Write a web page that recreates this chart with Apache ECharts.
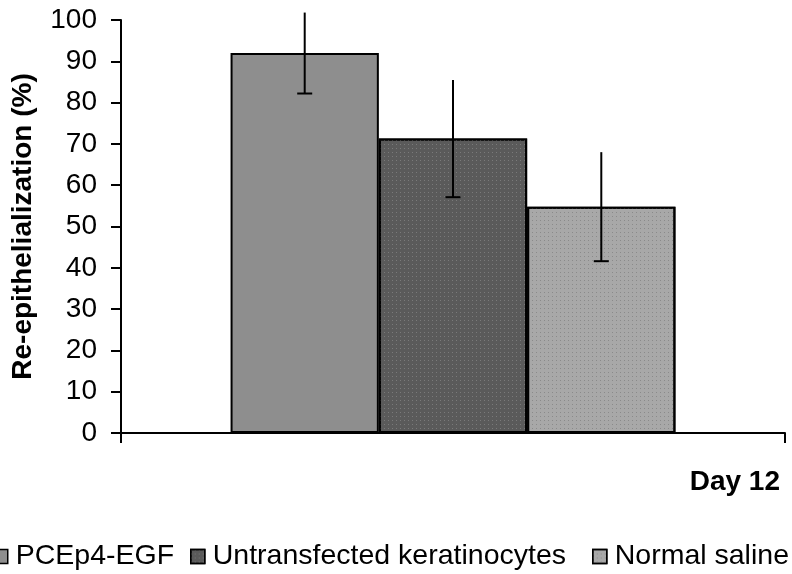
<!DOCTYPE html>
<html>
<head>
<meta charset="utf-8">
<script src="https://cdn.jsdelivr.net/npm/echarts@6/dist/echarts.min.js"></script>
<style>html,body{margin:0;padding:0;background:#fff;}#c{width:792px;height:574px;}</style>
</head>
<body>
<div id="c"></div>
<script>
var categories = ['Day 12'];
var seriesNames = ['PCEp4-EGF', 'Untransfected keratinocytes', 'Normal saline'];
var means = [92, 71.3, 54.8];
var errors = [9.8, 14.2, 13.2];
var yTicks = [0, 10, 20, 30, 40, 50, 60, 70, 80, 90, 100];

var colors = ['#8e8e8e', '#5a5a5a', '#a8a8a8'];
var dotColors = ['#8e8e8e', '#7a7a7a', '#8a8a8a'];
var FONT = '"Liberation Sans", Arial, sans-serif';
var catGap = 0.33;
var legendLefts = [-7, 190, 592];

var chart = echarts.init(document.getElementById('c'), null, {renderer: 'canvas'});

var series = seriesNames.map(function (name, i) {
  return {
    name: name,
    type: 'bar',
    data: [means[i]],
    barGap: '0%',
    barCategoryGap: '33%',
    itemStyle: {
      color: colors[i],
      borderColor: '#000',
      borderWidth: 2,
      decal: i === 0 ? null : {
        symbol: 'rect',
        symbolSize: 1,
        dashArrayX: [[1, 3]],
        dashArrayY: [1, 3],
        color: dotColors[i],
        rotation: 0
      }
    },
    emphasis: {disabled: true},
    z: 2
  };
});

var errData = means.map(function (m, i) { return [0, m - errors[i], m + errors[i], i]; });

series.push({
  type: 'custom',
  name: 'err',
  data: errData,
  z: 5,
  clip: false,
  silent: true,
  renderItem: function (params, api) {
    var lo = api.coord([api.value(0), api.value(1)]);
    var hi = api.coord([api.value(0), api.value(2)]);
    var idx = api.value(3);
    var band = api.size([1, 0])[0];
    var barW = band * (1 - catGap) / seriesNames.length;
    var x = lo[0] + (idx - (seriesNames.length - 1) / 2) * barW;
    var cap = 7.5;
    var st = {stroke: '#000', lineWidth: 2};
    return {
      type: 'group',
      children: [
        {type: 'line', shape: {x1: x, y1: hi[1], x2: x, y2: lo[1]}, style: st},
        {type: 'line', shape: {x1: x - cap, y1: lo[1], x2: x + cap, y2: lo[1]}, style: st}
      ]
    };
  }
});

var legends = seriesNames.map(function (name, i) {
  return {
    data: [name],
    left: legendLefts[i],
    top: 542,
    padding: 0,
    itemWidth: 14,
    itemHeight: 14,
    icon: 'rect',
    selectedMode: false,
    itemStyle: {borderColor: '#000', borderWidth: 1.5},
    textStyle: {fontFamily: FONT, fontSize: 28.5, color: '#000', padding: [0, 0, 0, 3]}
  };
});

chart.setOption({
  animation: false,
  backgroundColor: '#fff',
  grid: {left: 121, right: 7, top: 20, bottom: 141, containLabel: false},
  legend: legends,
  xAxis: {
    type: 'category',
    data: categories,
    axisLine: {lineStyle: {color: '#000', width: 2}},
    axisTick: {show: true, length: 10, lineStyle: {color: '#000', width: 2}},
    axisLabel: {show: false},
    splitLine: {show: false}
  },
  yAxis: {
    type: 'value',
    min: yTicks[0],
    max: yTicks[yTicks.length - 1],
    interval: yTicks[1] - yTicks[0],
    name: 'Re-epithelialization (%)',
    nameLocation: 'middle',
    nameGap: 84,
    nameRotate: 90,
    nameTextStyle: {fontFamily: FONT, fontSize: 28, fontWeight: 'bold', color: '#000'},
    axisLine: {show: true, lineStyle: {color: '#000', width: 2}},
    axisTick: {show: true, length: 10, lineStyle: {color: '#000', width: 2}},
    axisLabel: {fontFamily: FONT, fontSize: 28, color: '#000', margin: 24},
    splitLine: {show: false}
  },
  graphic: [{
    type: 'text',
    right: 12,
    top: 468,
    style: {text: categories[0], font: 'bold 28px ' + FONT, fill: '#000'}
  }],
  series: series
});
</script>
</body>
</html>
